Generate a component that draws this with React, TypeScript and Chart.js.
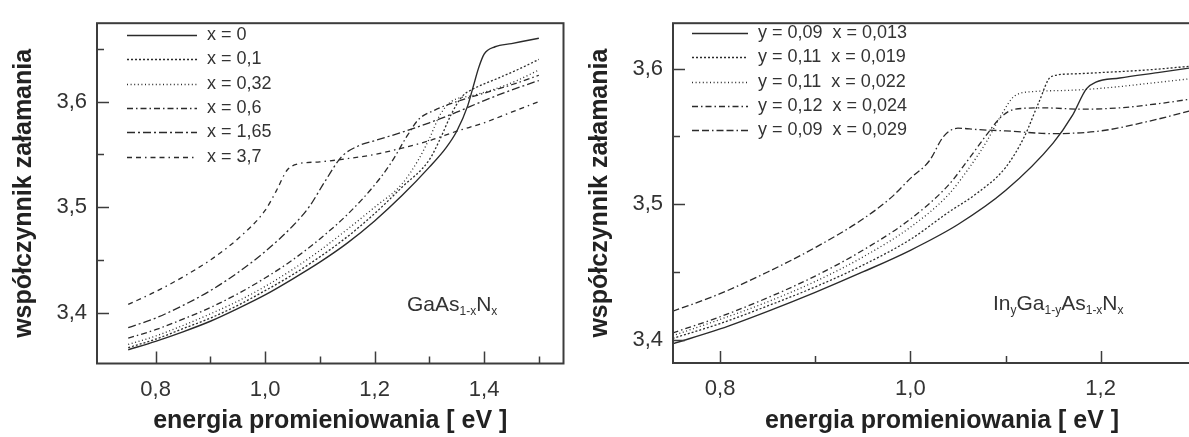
import React, { useEffect, useRef } from "react";
import { Chart, registerables } from "chart.js";

Chart.register(...registerables);

const FONT = '"Liberation Sans", Arial, Helvetica, sans-serif';

// ---------------- Left panel: GaAs1-xNx ----------------
const LEFT_LABELS = ["x = 0", "x = 0,1", "x = 0,32", "x = 0,6", "x = 1,65", "x = 3,7"];

const L_X0_E = [0.75, 0.8, 0.85, 0.9, 0.95, 1.0, 1.05, 1.1, 1.15, 1.2, 1.25, 1.3, 1.33, 1.35, 1.37, 1.38, 1.39, 1.4, 1.42, 1.45, 1.5];
const L_X0_N = [3.365, 3.373, 3.382, 3.392, 3.404, 3.417, 3.432, 3.448, 3.466, 3.487, 3.511, 3.538, 3.556, 3.572, 3.596, 3.614, 3.632, 3.645, 3.652, 3.655, 3.66];

const L_X01_E = [0.75, 0.8, 0.85, 0.9, 0.95, 1.0, 1.05, 1.1, 1.15, 1.2, 1.25, 1.3, 1.32, 1.34, 1.36, 1.38, 1.42, 1.46, 1.5];
const L_X01_N = [3.367, 3.375, 3.385, 3.395, 3.407, 3.421, 3.436, 3.453, 3.472, 3.494, 3.519, 3.545, 3.565, 3.588, 3.605, 3.612, 3.621, 3.63, 3.64];

const L_X032_E = [0.75, 0.8, 0.85, 0.9, 0.95, 1.0, 1.05, 1.1, 1.15, 1.2, 1.25, 1.28, 1.3, 1.32, 1.34, 1.38, 1.42, 1.46, 1.5];
const L_X032_N = [3.37, 3.378, 3.388, 3.399, 3.411, 3.425, 3.441, 3.459, 3.479, 3.5, 3.522, 3.545, 3.565, 3.588, 3.6, 3.606, 3.612, 3.62, 3.63];

const L_X06_E = [0.75, 0.8, 0.85, 0.9, 0.95, 1.0, 1.05, 1.1, 1.15, 1.2, 1.23, 1.26, 1.28, 1.31, 1.35, 1.4, 1.45, 1.5];
const L_X06_N = [3.376, 3.384, 3.394, 3.405, 3.418, 3.433, 3.45, 3.47, 3.493, 3.521, 3.542, 3.568, 3.583, 3.592, 3.6, 3.608, 3.616, 3.625];

const L_X165_E = [0.75, 0.8, 0.85, 0.9, 0.95, 1.0, 1.05, 1.08, 1.11, 1.14, 1.17, 1.2, 1.25, 1.3, 1.35, 1.4, 1.45, 1.5];
const L_X165_N = [3.386, 3.395, 3.407, 3.421, 3.438, 3.458, 3.482, 3.5, 3.525, 3.548, 3.558, 3.563, 3.571, 3.58, 3.59, 3.601, 3.611, 3.62];

const L_X37_E = [0.75, 0.8, 0.85, 0.9, 0.95, 1.0, 1.02, 1.04, 1.06, 1.1, 1.15, 1.2, 1.25, 1.3, 1.35, 1.4, 1.45, 1.5];
const L_X37_N = [3.408, 3.42, 3.434, 3.45, 3.47, 3.497, 3.515, 3.535, 3.541, 3.543, 3.546, 3.55, 3.556, 3.563, 3.572, 3.58, 3.59, 3.6];

const LEFT_X_TICKS = [0.8, 0.9, 1.0, 1.1, 1.2, 1.3, 1.4, 1.5];
const LEFT_X_TICK_LABELS = ["0,8", "", "1,0", "", "1,2", "", "1,4", ""];
const LEFT_Y_TICKS = [3.4, 3.45, 3.5, 3.55, 3.6, 3.65];
const LEFT_Y_TICK_LABELS = ["3,4", "", "3,5", "", "3,6", ""];

// ---------------- Right panel: InyGa1-yAs1-xNx ----------------
const RIGHT_LABELS = [
  "y = 0,09  x = 0,013",
  "y = 0,11  x = 0,019",
  "y = 0,11  x = 0,022",
  "y = 0,12  x = 0,024",
  "y = 0,09  x = 0,029",
];

const R_013_E = [0.75, 0.8, 0.85, 0.9, 0.95, 1.0, 1.05, 1.1, 1.15, 1.17, 1.185, 1.195, 1.22, 1.26, 1.3, 1.34];
const R_013_N = [3.397, 3.408, 3.421, 3.435, 3.45, 3.466, 3.485, 3.51, 3.545, 3.565, 3.585, 3.59, 3.593, 3.597, 3.601, 3.605];

const R_019_E = [0.75, 0.8, 0.85, 0.9, 0.95, 1.0, 1.04, 1.07, 1.1, 1.12, 1.135, 1.148, 1.17, 1.2, 1.25, 1.3, 1.34];
const R_019_N = [3.401, 3.412, 3.425, 3.439, 3.455, 3.474, 3.494, 3.508, 3.527, 3.55, 3.575, 3.594, 3.596, 3.597, 3.599, 3.602, 3.604];

const R_022_E = [0.75, 0.8, 0.85, 0.9, 0.95, 1.0, 1.04, 1.06, 1.08, 1.095, 1.11, 1.13, 1.17, 1.21, 1.25, 1.3, 1.34];
const R_022_N = [3.403, 3.415, 3.428, 3.443, 3.461, 3.483, 3.507, 3.525, 3.546, 3.565, 3.58, 3.583, 3.584, 3.586, 3.589, 3.593, 3.597];

const R_024_E = [0.75, 0.8, 0.85, 0.9, 0.95, 1.0, 1.04, 1.06, 1.08, 1.095, 1.11, 1.14, 1.18, 1.22, 1.26, 1.3, 1.34];
const R_024_N = [3.405, 3.417, 3.431, 3.447, 3.466, 3.489, 3.514, 3.532, 3.551, 3.564, 3.57, 3.571, 3.57, 3.571, 3.574, 3.578, 3.582];

const R_029_E = [0.75, 0.8, 0.85, 0.9, 0.95, 0.98, 1.0, 1.02, 1.035, 1.05, 1.07, 1.1, 1.15, 1.2, 1.25, 1.3, 1.34];
const R_029_N = [3.421, 3.434, 3.45, 3.468, 3.489, 3.505, 3.519, 3.532, 3.55, 3.556, 3.555, 3.554, 3.552, 3.554, 3.561, 3.57, 3.578];

const RIGHT_X_TICKS = [0.8, 0.9, 1.0, 1.1, 1.2, 1.3];
const RIGHT_X_TICK_LABELS = ["0,8", "", "1,0", "", "1,2", ""];
const RIGHT_Y_TICKS = [3.4, 3.45, 3.5, 3.55, 3.6];
const RIGHT_Y_TICK_LABELS = ["3,4", "", "3,5", "", "3,6"];

// ---------------- styles ----------------
const LINE_COLOR = "#2b2b2b";
const LEFT_DASHES = [[], [2, 2], [1, 2.6], [6, 3, 1.5, 3], [8, 3, 2, 3], [5, 4, 5, 4, 1.5, 4]];
const RIGHT_DASHES = [[], [2, 2], [1, 2.6], [6, 3, 1.5, 3], [7, 3, 7, 3, 1.5, 3]];

const pts = (e: number[], n: number[]) => e.map((v, i) => ({ x: v, y: n[i] }));

function makeDatasets(labels: string[], series: [number[], number[]][], dashes: number[][]) {
  return series.map(([e, n], i) => ({
    label: labels[i],
    data: pts(e, n),
    borderColor: LINE_COLOR,
    borderWidth: i === 0 ? 1.4 : 1.3,
    borderDash: dashes[i],
    pointRadius: 0,
    fill: false,
    cubicInterpolationMode: "monotone" as const,
  }));
}

const frameTicksPlugin = {
  id: "frameTicks",
  afterDatasetsDraw(chart: any) {
    const { ctx, chartArea } = chart;
    const { left, right, top, bottom } = chartArea;
    const xs = chart.scales.x;
    const ys = chart.scales.y;
    ctx.save();
    ctx.setLineDash([]);
    ctx.strokeStyle = "#3c3c3c";
    ctx.lineWidth = 1.5;
    ctx.beginPath();
    xs.ticks.forEach((t: any) => {
      const px = Math.round(xs.getPixelForValue(t.value)) + 0.5;
      const len = t.label ? 12 : 7;
      ctx.moveTo(px, bottom);
      ctx.lineTo(px, bottom - len);
    });
    ys.ticks.forEach((t: any) => {
      const py = Math.round(ys.getPixelForValue(t.value)) + 0.5;
      const len = t.label ? 12 : 7;
      ctx.moveTo(left, py);
      ctx.lineTo(left + len, py);
    });
    ctx.stroke();
    ctx.lineWidth = 2;
    ctx.strokeRect(left, top, right - left, bottom - top);
    ctx.restore();
  },
};

function makeLegendPlugin(cfg: { x0: number; y0: number; lineLen: number; gap: number; rowGap: number; size: number }) {
  return {
    id: "lineLegend",
    afterDraw(chart: any) {
      const { ctx } = chart;
      ctx.save();
      ctx.font = `${cfg.size}px ${FONT}`;
      ctx.textBaseline = "middle";
      ctx.textAlign = "left";
      chart.data.datasets.forEach((ds: any, i: number) => {
        const y = Math.round(cfg.y0 + i * cfg.rowGap) + 0.5;
        ctx.strokeStyle = ds.borderColor;
        ctx.lineWidth = ds.borderWidth;
        ctx.setLineDash(ds.borderDash || []);
        ctx.beginPath();
        ctx.moveTo(cfg.x0, y);
        ctx.lineTo(cfg.x0 + cfg.lineLen, y);
        ctx.stroke();
        ctx.setLineDash([]);
        ctx.fillStyle = "#333";
        ctx.fillText(ds.label, cfg.x0 + cfg.lineLen + cfg.gap, y);
      });
      ctx.restore();
    },
  };
}

function makeFormulaPlugin(cfg: { x: number; y: number; parts: [string, boolean][] }) {
  return {
    id: "formula",
    afterDraw(chart: any) {
      const { ctx } = chart;
      ctx.save();
      ctx.fillStyle = "#333";
      ctx.textBaseline = "alphabetic";
      ctx.textAlign = "left";
      let x = cfg.x;
      cfg.parts.forEach(([txt, sub]) => {
        ctx.font = `${sub ? 12 : 21}px ${FONT}`;
        ctx.fillText(txt, x, sub ? cfg.y + 4 : cfg.y);
        x += ctx.measureText(txt).width;
      });
      ctx.restore();
    },
  };
}

function makeConfig(p: {
  datasets: any[];
  xMin: number; xMax: number; yMin: number; yMax: number;
  xTicks: number[]; xLabels: string[]; yTicks: number[]; yLabels: string[];
  padTop: number; padRight: number; yWidth: number; xHeight: number;
  plugins: any[];
}) {
  return {
    type: "line" as const,
    data: { datasets: p.datasets },
    plugins: [frameTicksPlugin, ...p.plugins],
    options: {
      animation: false as const,
      responsive: true,
      maintainAspectRatio: false,
      layout: { padding: { left: 0, top: p.padTop, right: p.padRight, bottom: 0 } },
      plugins: { legend: { display: false }, tooltip: { enabled: false } },
      elements: { line: { tension: 0 } },
      scales: {
        x: {
          type: "linear" as const,
          min: p.xMin,
          max: p.xMax,
          grid: { display: false, drawTicks: false },
          border: { display: false },
          afterBuildTicks: (s: any) => { s.ticks = p.xTicks.map((v) => ({ value: v })); },
          afterFit: (s: any) => { s.height = p.xHeight; },
          ticks: {
            autoSkip: false,
            maxRotation: 0,
            padding: 13,
            color: "#333",
            font: { family: FONT, size: 22 },
            callback: (_v: any, i: number) => p.xLabels[i],
          },
          title: {
            display: true,
            text: "energia promieniowania [ eV ]",
            color: "#222",
            font: { family: FONT, size: 25, weight: "bold" as const },
            padding: { top: 0, bottom: 1 },
          },
        },
        y: {
          type: "linear" as const,
          min: p.yMin,
          max: p.yMax,
          grid: { display: false, drawTicks: false },
          border: { display: false },
          afterBuildTicks: (s: any) => { s.ticks = p.yTicks.map((v) => ({ value: v })); },
          afterFit: (s: any) => { s.width = p.yWidth; },
          ticks: {
            autoSkip: false,
            padding: 10,
            color: "#333",
            font: { family: FONT, size: 22 },
            callback: (_v: any, i: number) => p.yLabels[i],
          },
          title: {
            display: true,
            text: "współczynnik załamania",
            color: "#222",
            font: { family: FONT, size: 25, weight: "bold" as const },
            padding: { top: 9, bottom: 0 },
          },
        },
      },
    },
  };
}

export default function App() {
  const leftRef = useRef<HTMLCanvasElement>(null);
  const rightRef = useRef<HTMLCanvasElement>(null);

  useEffect(() => {
    const left = new Chart(leftRef.current as HTMLCanvasElement, makeConfig({
      datasets: makeDatasets(
        LEFT_LABELS,
        [[L_X0_E, L_X0_N], [L_X01_E, L_X01_N], [L_X032_E, L_X032_N], [L_X06_E, L_X06_N], [L_X165_E, L_X165_N], [L_X37_E, L_X37_N]],
        LEFT_DASHES
      ),
      xMin: 0.693, xMax: 1.545, yMin: 3.352, yMax: 3.6743,
      xTicks: LEFT_X_TICKS, xLabels: LEFT_X_TICK_LABELS, yTicks: LEFT_Y_TICKS, yLabels: LEFT_Y_TICK_LABELS,
      padTop: 15.5, padRight: 11.5, yWidth: 97, xHeight: 73.5,
      plugins: [
        makeLegendPlugin({ x0: 127, y0: 35, lineLen: 70, gap: 10, rowGap: 24.3, size: 18 }),
        makeFormulaPlugin({ x: 407, y: 311, parts: [["GaAs", false], ["1-x", true], ["N", false], ["x", true]] }),
      ],
    }) as any);

    const right = new Chart(rightRef.current as HTMLCanvasElement, makeConfig({
      datasets: makeDatasets(
        RIGHT_LABELS,
        [[R_013_E, R_013_N], [R_019_E, R_019_N], [R_022_E, R_022_N], [R_024_E, R_024_N], [R_029_E, R_029_N]],
        RIGHT_DASHES
      ),
      xMin: 0.7505, xMax: 1.316, yMin: 3.3829, yMax: 3.6334,
      xTicks: RIGHT_X_TICKS, xLabels: RIGHT_X_TICK_LABELS, yTicks: RIGHT_Y_TICKS, yLabels: RIGHT_Y_TICK_LABELS,
      padTop: 15, padRight: 25, yWidth: 97, xHeight: 74,
      plugins: [
        makeLegendPlugin({ x0: 116, y0: 33, lineLen: 56, gap: 10, rowGap: 24.3, size: 18 }),
        makeFormulaPlugin({
          x: 417, y: 310,
          parts: [["In", false], ["y", true], ["Ga", false], ["1-y", true], ["As", false], ["1-x", true], ["N", false], ["x", true]],
        }),
      ],
    }) as any);

    return () => {
      left.destroy();
      right.destroy();
    };
  }, []);

  return (
    <div style={{ position: "fixed", left: 0, top: 0, width: 1189, height: 437, overflow: "hidden", background: "#fff" }}>
      <div style={{ position: "absolute", left: 0, top: 0, width: 575, height: 437 }}>
        <canvas ref={leftRef} />
      </div>
      <div style={{ position: "absolute", left: 576, top: 0, width: 660, height: 437 }}>
        <canvas ref={rightRef} />
      </div>
    </div>
  );
}
